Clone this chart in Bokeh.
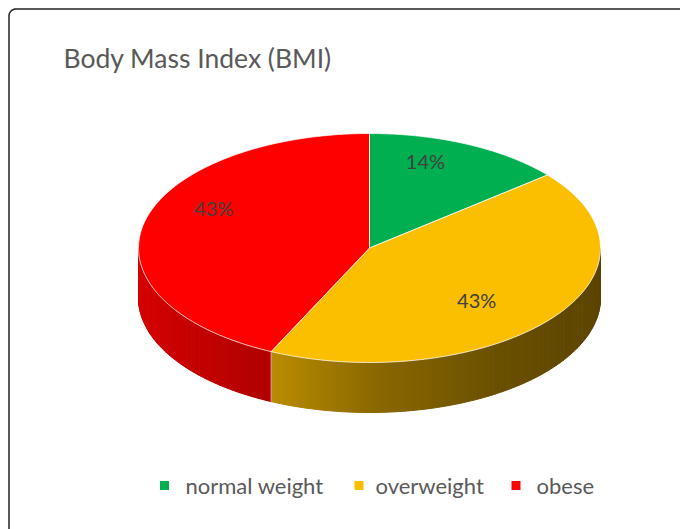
import numpy as np
from bokeh.plotting import figure
from bokeh.models import Range1d
from bokeh.embed import file_html
from bokeh.resources import INLINE
from bokeh.core.properties import value

# ---------------- data ----------------
title_text = "Body Mass Index (BMI)"
categories = ["normal weight", "overweight", "obese"]
values = [14, 43, 43]
labels = ["14%", "43%", "43%"]
top_colors = ["#00b050", "#fbbf00", "#ff0000"]
# side shading stops (fraction across the visible side, rgb)
side_stops = [
    [(0.0, (0, 130, 60)), (1.0, (0, 90, 40))],
    [(0.0, (186, 140, 0)), (0.32, (138, 104, 0)), (0.7, (106, 79, 0)), (1.0, (92, 69, 0))],
    [(0.0, (212, 0, 0)), (1.0, (176, 0, 0))],
]

# ---------------- layout ----------------
W, H = 680, 529
cx, cy, rx, ry, depth = 369.0, 247.5, 231.0, 114.5, 50.0
label_r = 0.62
label_nudge = [(-5, -23), (-6, 8), (-16, -25)]
legend_marker_x = [164, 358.5, 515.5]
legend_text_x = [185, 375, 536]
legend_y = 485

p = figure(width=W, height=H, output_backend="svg", toolbar_location=None,
           x_range=Range1d(0, W), y_range=Range1d(H, 0),
           min_border=0, outline_line_color=None, background_fill_color="white",
           border_fill_color="white")
p.axis.visible = False
p.grid.visible = False


def pt(t_deg):
    t = np.radians(t_deg)
    return cx + rx * np.cos(t), cy - ry * np.sin(t)


def interp(stops, f):
    for (f0, c0), (f1, c1) in zip(stops[:-1], stops[1:]):
        if f <= f1:
            u = 0 if f1 == f0 else (f - f0) / (f1 - f0)
            return tuple(int(round(a + (b - a) * u)) for a, b in zip(c0, c1))
    return stops[-1][1]


total = float(sum(values))
starts, ends = [], []
a = 90.0
for v in values:
    starts.append(a)
    a -= v / total * 360.0
    ends.append(a)

# ---- sides (front half only) ----
sx, sy, sc = [], [], []
edge_angles = []
for i in range(len(values)):
    lo, hi = ends[i], starts[i]
    for k in (-360.0, 0.0, 360.0):
        vlo, vhi = max(lo, -180.0 + k), min(hi, 0.0 + k)
        if vhi <= vlo:
            continue
        n = max(4, int((vhi - vlo) / 1.0))
        ts = np.linspace(vlo, vhi, n + 1)
        xs_all = [pt(t)[0] for t in ts]
        xmin, xmax = min(xs_all), max(xs_all)
        for j in range(n):
            t0, t1 = ts[j], ts[j + 1]
            x0, y0 = pt(t0)
            x1, y1 = pt(t1)
            sx.append([x0, x1, x1, x0])
            sy.append([y0, y1, y1 + depth, y0 + depth])
            f = ((x0 + x1) / 2 - xmin) / (xmax - xmin)
            r, g, b = interp(side_stops[i], f)
            sc.append("#%02x%02x%02x" % (r, g, b))
        for t in (vlo, vhi):
            if -180.0 + k < t < 0.0 + k:
                edge_angles.append(t)

p.patches(sx, sy, fill_color=sc, line_color=sc, line_width=1)
for t in set(round(e, 6) for e in edge_angles):
    x0, y0 = pt(t)
    p.line([x0, x0], [y0, y0 + depth], line_color="white", line_alpha=0.7, line_width=1)

# ---- top wedges ----
wx, wy = [], []
for i in range(len(values)):
    ts = np.linspace(starts[i], ends[i], 120)
    xs = [cx] + [pt(t)[0] for t in ts]
    ys = [cy] + [pt(t)[1] for t in ts]
    wx.append(xs)
    wy.append(ys)
p.patches(wx, wy, fill_color=top_colors, line_color="white", line_alpha=0.75, line_width=1)

# ---- data labels ----
lx, ly = [], []
for i in range(len(values)):
    m = (starts[i] + ends[i]) / 2
    t = np.radians(m)
    lx.append(cx + label_r * rx * np.cos(t) + label_nudge[i][0])
    ly.append(cy - label_r * ry * np.sin(t) + label_nudge[i][1])
p.text(lx, ly, text=labels, text_font=value("Lato"), text_font_size="20px",
       text_color="#404040", text_align="center", text_baseline="middle")

# ---- title ----
p.text([63], [57], text=[title_text], text_font=value("Lato"), text_font_size="26.5px",
       text_color="#595959", text_align="left", text_baseline="middle")

# ---- legend ----
p.scatter(legend_marker_x, [legend_y] * 3, marker="square", size=9, fill_color=top_colors,
          line_color=None)
p.text(legend_text_x, [legend_y] * 3, text=categories, text_font=value("Lato"),
       text_font_size="22px", text_color="#595959", text_align="left", text_baseline="middle")

# ---- chart frame (rounded top-left corner) ----
rad = 7.0
ang = np.linspace(np.pi, 1.5 * np.pi, 12)
fx = [8.5, 8.5] + list(8.5 + rad + rad * np.cos(ang)) + [W]
fy = [H, 8.5 + rad] + list(8.5 + rad + rad * np.sin(ang)) + [8.5]
p.line(fx, fy, line_color="#222222", line_width=1.5)

open("out.html", "w").write(file_html(p, INLINE))
